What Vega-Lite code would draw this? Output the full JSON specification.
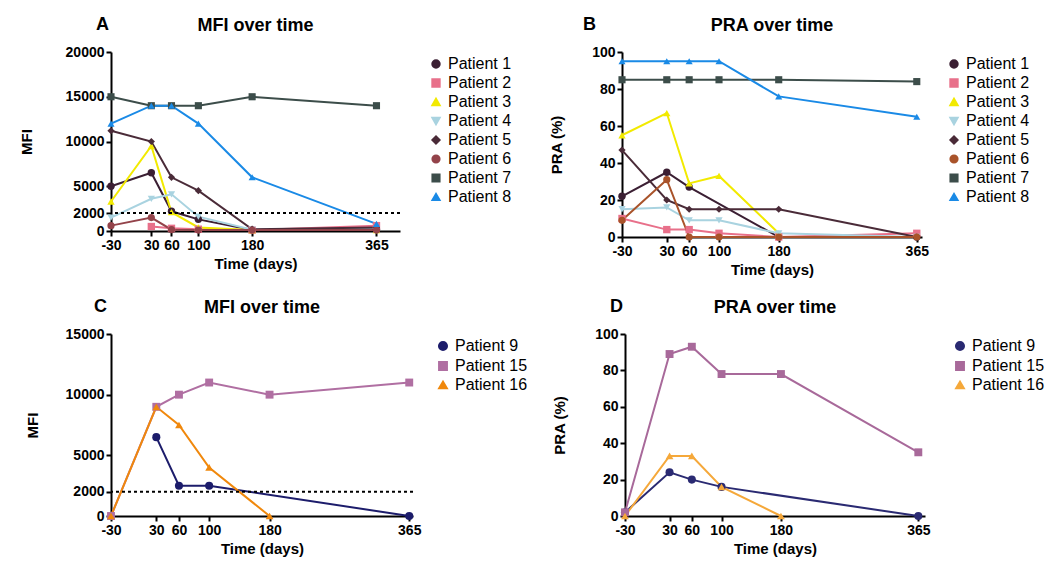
{
  "$schema": "https://vega.github.io/schema/vega-lite/v6.json",
  "background": "white",
  "padding": {"left": 19, "top": 16, "right": 5, "bottom": 5},
  "align": "none",
  "datasets": {
    "mfi_a": [
      {"patient": "Patient 1", "day": -30, "value": 5000},
      {"patient": "Patient 1", "day": 30, "value": 6500},
      {"patient": "Patient 1", "day": 60, "value": 2200},
      {"patient": "Patient 1", "day": 100, "value": 1300},
      {"patient": "Patient 1", "day": 180, "value": 100},
      {"patient": "Patient 1", "day": 365, "value": 200},
      {"patient": "Patient 2", "day": 30, "value": 500},
      {"patient": "Patient 2", "day": 60, "value": 300},
      {"patient": "Patient 2", "day": 100, "value": 200},
      {"patient": "Patient 2", "day": 180, "value": 100},
      {"patient": "Patient 2", "day": 365, "value": 600},
      {"patient": "Patient 3", "day": -30, "value": 3300},
      {"patient": "Patient 3", "day": 30, "value": 9500},
      {"patient": "Patient 3", "day": 60, "value": 2100},
      {"patient": "Patient 3", "day": 100, "value": 400},
      {"patient": "Patient 3", "day": 180, "value": 100},
      {"patient": "Patient 3", "day": 365, "value": 100},
      {"patient": "Patient 4", "day": -30, "value": 1500},
      {"patient": "Patient 4", "day": 30, "value": 3600},
      {"patient": "Patient 4", "day": 60, "value": 4100},
      {"patient": "Patient 4", "day": 100, "value": 1600},
      {"patient": "Patient 4", "day": 180, "value": 150},
      {"patient": "Patient 4", "day": 365, "value": 200},
      {"patient": "Patient 5", "day": -30, "value": 11200},
      {"patient": "Patient 5", "day": 30, "value": 10000},
      {"patient": "Patient 5", "day": 60, "value": 6000},
      {"patient": "Patient 5", "day": 100, "value": 4500},
      {"patient": "Patient 5", "day": 180, "value": 200},
      {"patient": "Patient 5", "day": 365, "value": 400},
      {"patient": "Patient 6", "day": -30, "value": 600},
      {"patient": "Patient 6", "day": 30, "value": 1500},
      {"patient": "Patient 6", "day": 60, "value": 150},
      {"patient": "Patient 6", "day": 100, "value": 100},
      {"patient": "Patient 6", "day": 180, "value": 100},
      {"patient": "Patient 6", "day": 365, "value": 100},
      {"patient": "Patient 7", "day": -30, "value": 15000},
      {"patient": "Patient 7", "day": 30, "value": 14000},
      {"patient": "Patient 7", "day": 60, "value": 14000},
      {"patient": "Patient 7", "day": 100, "value": 14000},
      {"patient": "Patient 7", "day": 180, "value": 15000},
      {"patient": "Patient 7", "day": 365, "value": 14000},
      {"patient": "Patient 8", "day": -30, "value": 12000},
      {"patient": "Patient 8", "day": 30, "value": 14000},
      {"patient": "Patient 8", "day": 60, "value": 14000},
      {"patient": "Patient 8", "day": 100, "value": 12000},
      {"patient": "Patient 8", "day": 180, "value": 6000},
      {"patient": "Patient 8", "day": 365, "value": 800}
    ],
    "pra_b": [
      {"patient": "Patient 1", "day": -30, "value": 22},
      {"patient": "Patient 1", "day": 30, "value": 35},
      {"patient": "Patient 1", "day": 60, "value": 27},
      {"patient": "Patient 1", "day": 180, "value": 0},
      {"patient": "Patient 1", "day": 365, "value": 0},
      {"patient": "Patient 2", "day": -30, "value": 10},
      {"patient": "Patient 2", "day": 30, "value": 4},
      {"patient": "Patient 2", "day": 60, "value": 4},
      {"patient": "Patient 2", "day": 100, "value": 2},
      {"patient": "Patient 2", "day": 180, "value": 0},
      {"patient": "Patient 2", "day": 365, "value": 2},
      {"patient": "Patient 3", "day": -30, "value": 55},
      {"patient": "Patient 3", "day": 30, "value": 67},
      {"patient": "Patient 3", "day": 60, "value": 29},
      {"patient": "Patient 3", "day": 100, "value": 33},
      {"patient": "Patient 3", "day": 180, "value": 2},
      {"patient": "Patient 4", "day": -30, "value": 15},
      {"patient": "Patient 4", "day": 30, "value": 16},
      {"patient": "Patient 4", "day": 60, "value": 9},
      {"patient": "Patient 4", "day": 100, "value": 9},
      {"patient": "Patient 4", "day": 180, "value": 2},
      {"patient": "Patient 4", "day": 365, "value": 0},
      {"patient": "Patient 5", "day": -30, "value": 47},
      {"patient": "Patient 5", "day": 30, "value": 20},
      {"patient": "Patient 5", "day": 60, "value": 15},
      {"patient": "Patient 5", "day": 100, "value": 15},
      {"patient": "Patient 5", "day": 180, "value": 15},
      {"patient": "Patient 5", "day": 365, "value": 0},
      {"patient": "Patient 6", "day": -30, "value": 9},
      {"patient": "Patient 6", "day": 30, "value": 31},
      {"patient": "Patient 6", "day": 60, "value": 0},
      {"patient": "Patient 6", "day": 100, "value": 0},
      {"patient": "Patient 6", "day": 180, "value": 0},
      {"patient": "Patient 6", "day": 365, "value": 0},
      {"patient": "Patient 7", "day": -30, "value": 85},
      {"patient": "Patient 7", "day": 30, "value": 85},
      {"patient": "Patient 7", "day": 60, "value": 85},
      {"patient": "Patient 7", "day": 100, "value": 85},
      {"patient": "Patient 7", "day": 180, "value": 85},
      {"patient": "Patient 7", "day": 365, "value": 84},
      {"patient": "Patient 8", "day": -30, "value": 95},
      {"patient": "Patient 8", "day": 30, "value": 95},
      {"patient": "Patient 8", "day": 60, "value": 95},
      {"patient": "Patient 8", "day": 100, "value": 95},
      {"patient": "Patient 8", "day": 180, "value": 76},
      {"patient": "Patient 8", "day": 365, "value": 65}
    ],
    "mfi_c": [
      {"patient": "Patient 9", "day": 30, "value": 6500},
      {"patient": "Patient 9", "day": 60, "value": 2500},
      {"patient": "Patient 9", "day": 100, "value": 2500},
      {"patient": "Patient 9", "day": 365, "value": 0},
      {"patient": "Patient 15", "day": -30, "value": 0},
      {"patient": "Patient 15", "day": 30, "value": 9000},
      {"patient": "Patient 15", "day": 60, "value": 10000},
      {"patient": "Patient 15", "day": 100, "value": 11000},
      {"patient": "Patient 15", "day": 180, "value": 10000},
      {"patient": "Patient 15", "day": 365, "value": 11000},
      {"patient": "Patient 16", "day": -30, "value": 0},
      {"patient": "Patient 16", "day": 30, "value": 9000},
      {"patient": "Patient 16", "day": 60, "value": 7500},
      {"patient": "Patient 16", "day": 100, "value": 4000},
      {"patient": "Patient 16", "day": 180, "value": 0}
    ],
    "pra_d": [
      {"patient": "Patient 9", "day": -30, "value": 2},
      {"patient": "Patient 9", "day": 30, "value": 24},
      {"patient": "Patient 9", "day": 60, "value": 20},
      {"patient": "Patient 9", "day": 100, "value": 16},
      {"patient": "Patient 9", "day": 365, "value": 0},
      {"patient": "Patient 15", "day": -30, "value": 2},
      {"patient": "Patient 15", "day": 30, "value": 89},
      {"patient": "Patient 15", "day": 60, "value": 93},
      {"patient": "Patient 15", "day": 100, "value": 78},
      {"patient": "Patient 15", "day": 180, "value": 78},
      {"patient": "Patient 15", "day": 365, "value": 35},
      {"patient": "Patient 16", "day": -30, "value": 0},
      {"patient": "Patient 16", "day": 30, "value": 33},
      {"patient": "Patient 16", "day": 60, "value": 33},
      {"patient": "Patient 16", "day": 100, "value": 16},
      {"patient": "Patient 16", "day": 180, "value": 0}
    ],
    "threshold": [{"value": 2000}]
  },
  "vconcat": [
    {
      "hconcat": [
        {
          "title": {"text": "A", "anchor": "start", "offset": -17, "dx": -15},
          "vconcat": [
            {
              "width": 289, "height": 179,
              "title": {"text": "MFI over time", "offset": 10},
              "layer": [
                {
                  "data": {"name": "mfi_a"},
                  "mark": {"type": "line", "strokeWidth": 2},
                  "encoding": {
                    "x": {"field": "day", "type": "quantitative", "scale": {"domain": [-30, 400], "nice": false, "zero": false}, "axis": {"values": [-30, 30, 60, 100, 180, 365], "tickCount": 20, "title": "Time (days)", "labelOverlap": false, "labelExpr": "datum.value + ''"}},
                    "y": {"field": "value", "type": "quantitative", "scale": {"domain": [0, 20000], "nice": false}, "axis": {"values": [0, 2000, 5000, 10000, 15000, 20000], "tickCount": 20, "title": "MFI", "titlePadding": 31, "labelOverlap": false, "labelExpr": "datum.value + ''"}},
                    "color": {"field": "patient", "type": "nominal", "title": null, "scale": {"domain": ["Patient 1", "Patient 2", "Patient 3", "Patient 4", "Patient 5", "Patient 6", "Patient 7", "Patient 8"], "range": ["#3b1f33", "#e8708a", "#f2ea00", "#a9d3e0", "#4a2b38", "#93434a", "#3c4d4a", "#1a8ae6"]}}
                  }
                },
                {
                  "data": {"name": "mfi_a"},
                  "mark": {"type": "point", "filled": true, "opacity": 1},
                  "encoding": {
                    "x": {"field": "day", "type": "quantitative"},
                    "y": {"field": "value", "type": "quantitative"},
                    "color": {"field": "patient", "type": "nominal", "title": null, "legend": {"offset": 23}},
                    "shape": {"field": "patient", "type": "nominal", "title": null, "scale": {"domain": ["Patient 1", "Patient 2", "Patient 3", "Patient 4", "Patient 5", "Patient 6", "Patient 7", "Patient 8"], "range": ["circle", "square", "triangle-up", "triangle-down", "diamond", "circle", "square", "triangle-up"]}},
                    "size": {"field": "patient", "type": "nominal", "title": null, "scale": {"domain": ["Patient 1", "Patient 2", "Patient 3", "Patient 4", "Patient 5", "Patient 6", "Patient 7", "Patient 8"], "range": [55, 50, 80, 80, 55, 130, 100, 110]}}
                  }
                },
                {
                  "data": {"name": "threshold"},
                  "mark": {"type": "rule", "strokeDash": [3, 3], "strokeWidth": 2, "color": "black"},
                  "encoding": {"y": {"field": "value", "type": "quantitative"}}
                }
              ]
            }
          ]
        },
        {
          "title": {"text": "B", "anchor": "start", "offset": -17, "dx": -39},
          "vconcat": [
            {
              "width": 300, "height": 185,
              "title": {"text": "PRA over time", "offset": 10},
              "layer": [
                {
                  "data": {"name": "pra_b"},
                  "mark": {"type": "line", "strokeWidth": 2},
                  "encoding": {
                    "x": {"field": "day", "type": "quantitative", "scale": {"domain": [-30, 372], "nice": false, "zero": false}, "axis": {"values": [-30, 30, 60, 100, 180, 365], "tickCount": 20, "title": "Time (days)", "labelOverlap": false, "labelExpr": "datum.value + ''"}},
                    "y": {"field": "value", "type": "quantitative", "scale": {"domain": [0, 100], "nice": false}, "axis": {"values": [0, 20, 40, 60, 80, 100], "tickCount": 20, "title": "PRA (%)", "titlePadding": 27, "labelOverlap": false}},
                    "color": {"field": "patient", "type": "nominal", "title": null, "scale": {"domain": ["Patient 1", "Patient 2", "Patient 3", "Patient 4", "Patient 5", "Patient 6", "Patient 7", "Patient 8"], "range": ["#3b1f33", "#e8708a", "#f2ea00", "#a9d3e0", "#4a2b38", "#a9532a", "#3c4d4a", "#1a8ae6"]}}
                  }
                },
                {
                  "data": {"name": "pra_b"},
                  "mark": {"type": "point", "filled": true, "opacity": 1},
                  "encoding": {
                    "x": {"field": "day", "type": "quantitative"},
                    "y": {"field": "value", "type": "quantitative"},
                    "color": {"field": "patient", "type": "nominal", "title": null, "legend": {"offset": 13}},
                    "shape": {"field": "patient", "type": "nominal", "title": null, "scale": {"domain": ["Patient 1", "Patient 2", "Patient 3", "Patient 4", "Patient 5", "Patient 6", "Patient 7", "Patient 8"], "range": ["circle", "square", "triangle-up", "triangle-down", "diamond", "circle", "square", "triangle-up"]}},
                    "size": {"field": "patient", "type": "nominal", "title": null, "scale": {"domain": ["Patient 1", "Patient 2", "Patient 3", "Patient 4", "Patient 5", "Patient 6", "Patient 7", "Patient 8"], "range": [55, 50, 80, 80, 55, 130, 100, 110]}}
                  }
                }
              ]
            }
          ]
        }
      ],
      "spacing": 33,
      "resolve": {"scale": {"color": "independent", "shape": "independent", "size": "independent", "x": "independent", "y": "independent"}, "legend": {"color": "independent", "shape": "independent", "size": "independent"}}
    },
    {
      "hconcat": [
        {
          "title": {"text": "C", "anchor": "start", "offset": -17, "dx": -17},
          "vconcat": [
            {
              "width": 302, "height": 182,
              "title": {"text": "MFI over time", "offset": 10},
              "layer": [
                {
                  "data": {"name": "mfi_c"},
                  "mark": {"type": "line", "strokeWidth": 2},
                  "encoding": {
                    "x": {"field": "day", "type": "quantitative", "scale": {"domain": [-30, 370], "nice": false, "zero": false}, "axis": {"values": [-30, 30, 60, 100, 180, 365], "tickCount": 20, "title": "Time (days)", "labelOverlap": false, "labelExpr": "datum.value + ''"}},
                    "y": {"field": "value", "type": "quantitative", "scale": {"domain": [0, 15000], "nice": false}, "axis": {"values": [0, 2000, 5000, 10000, 15000], "tickCount": 20, "title": "MFI", "titlePadding": 25, "labelOverlap": false, "labelExpr": "datum.value + ''"}},
                    "color": {"field": "patient", "type": "nominal", "title": null, "scale": {"domain": ["Patient 9", "Patient 15", "Patient 16"], "range": ["#1c1c6b", "#b06fa2", "#f0880c"]}}
                  }
                },
                {
                  "data": {"name": "mfi_c"},
                  "mark": {"type": "point", "filled": true, "opacity": 1},
                  "encoding": {
                    "x": {"field": "day", "type": "quantitative"},
                    "y": {"field": "value", "type": "quantitative"},
                    "color": {"field": "patient", "type": "nominal", "title": null, "legend": {"offset": 10}},
                    "shape": {"field": "patient", "type": "nominal", "title": null, "scale": {"domain": ["Patient 9", "Patient 15", "Patient 16"], "range": ["circle", "square", "triangle-up"]}},
                    "size": {"field": "patient", "type": "nominal", "title": null, "scale": {"domain": ["Patient 9", "Patient 15", "Patient 16"], "range": [65, 60, 70]}}
                  }
                },
                {
                  "data": {"name": "threshold"},
                  "mark": {"type": "rule", "strokeDash": [3, 3], "strokeWidth": 2, "color": "black"},
                  "encoding": {"y": {"field": "value", "type": "quantitative"}}
                }
              ]
            }
          ]
        },
        {
          "title": {"text": "D", "anchor": "start", "offset": -17, "dx": -15},
          "vconcat": [
            {
              "width": 300, "height": 182,
              "title": {"text": "PRA over time", "offset": 10},
              "layer": [
                {
                  "data": {"name": "pra_d"},
                  "mark": {"type": "line", "strokeWidth": 2},
                  "encoding": {
                    "x": {"field": "day", "type": "quantitative", "scale": {"domain": [-30, 374], "nice": false, "zero": false}, "axis": {"values": [-30, 30, 60, 100, 180, 365], "tickCount": 20, "title": "Time (days)", "labelOverlap": false, "labelExpr": "datum.value + ''"}},
                    "y": {"field": "value", "type": "quantitative", "scale": {"domain": [0, 100], "nice": false}, "axis": {"values": [0, 20, 40, 60, 80, 100], "tickCount": 20, "title": "PRA (%)", "titlePadding": 27, "labelOverlap": false}},
                    "color": {"field": "patient", "type": "nominal", "title": null, "scale": {"domain": ["Patient 9", "Patient 15", "Patient 16"], "range": ["#2a2a72", "#a8699a", "#f5a83a"]}}
                  }
                },
                {
                  "data": {"name": "pra_d"},
                  "mark": {"type": "point", "filled": true, "opacity": 1},
                  "encoding": {
                    "x": {"field": "day", "type": "quantitative"},
                    "y": {"field": "value", "type": "quantitative"},
                    "color": {"field": "patient", "type": "nominal", "title": null},
                    "shape": {"field": "patient", "type": "nominal", "title": null, "scale": {"domain": ["Patient 9", "Patient 15", "Patient 16"], "range": ["circle", "square", "triangle-up"]}},
                    "size": {"field": "patient", "type": "nominal", "title": null, "scale": {"domain": ["Patient 9", "Patient 15", "Patient 16"], "range": [65, 60, 70]}}
                  }
                }
              ]
            }
          ]
        }
      ],
      "spacing": 20,
      "resolve": {"scale": {"color": "independent", "shape": "independent", "size": "independent", "x": "independent", "y": "independent"}, "legend": {"color": "independent", "shape": "independent", "size": "independent"}}
    }
  ],
  "spacing": 21,
  "resolve": {"scale": {"color": "independent", "shape": "independent", "size": "independent", "x": "independent", "y": "independent"}, "legend": {"color": "independent", "shape": "independent", "size": "independent"}},
  "config": {
    "view": {"stroke": null},
    "font": "Liberation Sans",
    "axis": {"domainColor": "black", "domainWidth": 2, "tickColor": "black", "tickWidth": 2, "tickSize": 5, "labelFont": "Liberation Sans", "labelFontSize": 14, "labelFontWeight": "bold", "labelColor": "black", "labelPadding": 2, "labelFlush": false, "labelOverlap": false, "titleFont": "Liberation Sans", "titleFontSize": 15, "titleFontWeight": "bold", "titleColor": "black", "titlePadding": 4, "grid": false},
    "legend": {"labelFont": "Liberation Sans", "labelFontSize": 16, "labelColor": "black", "rowPadding": 3, "offset": 18, "padding": 4, "symbolStrokeWidth": 2},
    "title": {"font": "Liberation Sans", "fontSize": 18, "fontWeight": "bold", "color": "black", "anchor": "middle", "frame": "group"}
  }
}
